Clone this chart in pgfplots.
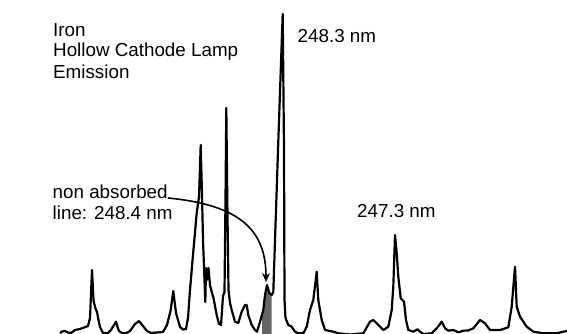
\documentclass[border=0pt]{standalone}
\usepackage{fontspec}
\setmainfont{Liberation Sans}
\usepackage{pgfplots}
\pgfplotsset{compat=1.18}
\usetikzlibrary{arrows.meta}
\begin{document}
\begin{tikzpicture}
\useasboundingbox (0,0) rectangle (567pt,334pt);
\begin{axis}[
  at={(0,0)}, anchor=south west,
  scale only axis, width=567pt, height=334pt,
  xmin=0, xmax=567, ymin=0, ymax=334,
  axis lines=none, clip=true,
]
\addplot[fill=black!60, draw=none] coordinates {
(262,0) (262,19) (263.3,24) (265,39) (267,49) (269.3,41) (271.7,39) (271.7,0)
} \closedcycle;
\addplot[black, line width=2.2pt, line join=round, mark=none] coordinates {
(60,0.7) (62,2.5) (65,3) (68,1.5) (71,1) (75,4) (80,5) (84,6.5) (88,8) (90,16)
(92,64) (93.5,34) (95,27) (97,22) (98.5,14) (100,7) (103,1) (108,1) (111,4)
(114,9) (116,12.3) (117.5,7) (119,3) (122,1) (126,0.7) (130,3) (135,10)
(139,13) (143,8) (147,3) (151,1) (163,2) (167,9) (170.7,24) (173.3,43)
(176,21) (178,14) (180,7) (183,4.5) (186,5) (188,16) (190,44) (193,79)
(196.7,121) (199,137) (200.7,189) (202,139) (203,94) (205.3,32) (206,66)
(207,54) (208.5,66) (210,49) (212,41) (213.5,36) (216.7,19) (219,10) (221,9)
(223,38) (224.5,42) (225.5,134) (226.3,226) (227.3,134) (228.5,44) (230,31)
(231.7,24) (235,12.3) (238.3,11) (241.7,22.3) (245,29) (246.7,29) (248.3,19)
(251.7,9) (255,4) (257,2.3) (260,12) (263.3,24) (265,39) (267,49) (269.3,41)
(271.7,39) (273.3,42) (278,184) (282.7,320) (284,184) (284.5,34) (285.5,16)
(288.3,9) (291.7,7.3) (295,2.3) (298.3,0.7) (303.3,0.7) (306.7,7.3) (310,24)
(313.3,34) (316.7,62.3) (318.3,34) (321.7,14) (325,4) (333.3,2.3) (338.3,0.7)
(350,-0.5) (363.3,0.7) (370,12.3) (373.3,14) (378.3,9) (383.3,4) (388.3,7.3)
(391.7,24) (393.3,47.3) (395,99) (396.7,81) (398.3,57.3) (400.7,35.7)
(404,32.3) (406,14) (408.3,4) (413.3,2.3) (417.3,4.7) (420,2.3) (423.3,0)
(431.7,0.7) (436.7,5.7) (441.7,12.3) (445,5.7) (448.3,3.3) (453.3,4)
(458.3,1.7) (463.3,3.3) (468,3.5) (473.3,5.7) (480,14) (485,10.7) (490,4)
(500,4) (508.3,6.7) (511.7,27.3) (515,67.3) (516.7,27.3) (520,17.3)
(526.7,7.3) (533.3,2.3) (543.3,0.7) (556.7,0.7) (563.3,2.3) (567,3)
};
\draw[black, line width=1.6pt, -{Stealth[length=9pt,width=8pt,inset=3pt]}]
  (axis cs:168,136) .. controls (axis cs:240,129) and (axis cs:266,104) .. (axis cs:266,52);
\begin{scope}[every node/.style={anchor=base west, inner sep=0pt, font=\fontsize{18.8}{21}\selectfont}]
\node at (axis cs:53,297.3) {Iron};
\node at (axis cs:53,277.3) {Hollow Cathode Lamp};
\node at (axis cs:53,255.5) {Emission};
\node at (axis cs:297.5,291.3) {248.3 nm};
\node at (axis cs:52.5,135) {non absorbed};
\node at (axis cs:52.5,114) {line: 248.4 nm};
\node at (axis cs:357,116) {247.3 nm};
\end{scope}
\end{axis}
\end{tikzpicture}
\end{document}
